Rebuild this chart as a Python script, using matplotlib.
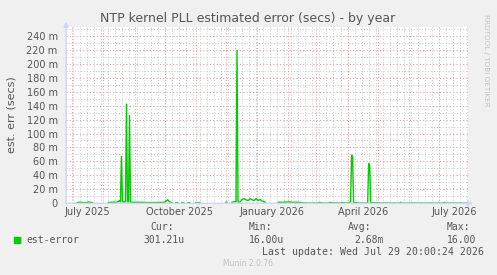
# Munin-style yearly graph for the NTP kernel PLL estimated error

import matplotlib
matplotlib.use("Agg")
import matplotlib.pyplot as plt
import matplotlib.dates as mdates
from matplotlib.patches import Rectangle
import numpy as np
import pandas as pd

nan = float("nan")

# sample dates and estimated error in milliseconds (nan = no data)
sample_dates = [
    "2025-07-06", "2025-07-09", "2025-07-12", "2025-07-15", "2025-07-17", "2025-07-21", "2025-07-28",
    "2025-08-06", "2025-08-10", "2025-08-14", "2025-08-17", "2025-08-18", "2025-08-19", "2025-08-20",
    "2025-08-22", "2025-08-23", "2025-08-24", "2025-08-25", "2025-08-26", "2025-08-27", "2025-08-28",
    "2025-09-05", "2025-09-15", "2025-09-25", "2025-10-01", "2025-10-04", "2025-10-06", "2025-10-08",
    "2025-10-10", "2025-10-12", "2025-10-14", "2025-10-16", "2025-10-18", "2025-10-20", "2025-10-22",
    "2025-10-24", "2025-10-26", "2025-10-29", "2025-11-01", "2025-11-05", "2025-11-10",
    "2025-12-01", "2025-12-02", "2025-12-04", "2025-12-07", "2025-12-10", "2025-12-11", "2025-12-12",
    "2025-12-13", "2025-12-15", "2025-12-17", "2025-12-19", "2025-12-21", "2025-12-23", "2025-12-25",
    "2025-12-27", "2025-12-29", "2025-12-31", "2026-01-02", "2026-01-04", "2026-01-06", "2026-01-08",
    "2026-01-09", "2026-01-15", "2026-01-22", "2026-01-27", "2026-02-01", "2026-02-05", "2026-02-10",
    "2026-02-20", "2026-03-02", "2026-03-04", "2026-03-08", "2026-03-13", "2026-03-14", "2026-03-25",
    "2026-03-26", "2026-04-01", "2026-04-04", "2026-04-05", "2026-04-06", "2026-04-07", "2026-04-15",
    "2026-04-21", "2026-04-22", "2026-04-23", "2026-04-24", "2026-05-10", "2026-05-23", "2026-05-24",
    "2026-05-25", "2026-06-20", "2026-07-05", "2026-07-06", "2026-07-07", "2026-07-20", "2026-07-29",
]
est_err_ms = [
    1.0, 1.5, 1.0, 1.0, 1.8, 1.0, nan,
    1.2, 1.5, 1.5, 3.5, 2.0, 67.0, 2.0,
    2.0, 2.0, 142.0, 2.0, 2.0, 126.0, 1.5,
    1.5, 1.0, 1.2, 1.5, 5.0, 2.0, 1.0,
    nan, 1.0, 1.0, nan, 1.0, 1.0, nan,
    1.0, 1.0, nan, 1.0, 1.0, nan,
    1.5, 1.5, nan, 1.5, 2.5, 2.0, 219.0,
    2.0, 1.5, 5.5, 6.5, 5.0, 4.0, 6.5,
    5.0, 4.0, 6.5, 4.0, 5.5, 3.0, 2.5,
    1.0, nan, 1.5, 1.5, 2.0, 1.5, 1.5,
    0.3, 0.3, 1.2, 0.3, 0.3, 1.2, 0.3,
    1.2, 0.3, 2.0, 69.0, 66.0, 1.0, 0.3,
    0.3, 57.0, 55.0, 1.0, 0.3, 0.3, 1.5,
    0.3, 0.3, 0.3, 1.5, 0.3, 0.3, 0.3,
]

y_ticks_ms = [0, 20, 40, 60, 80, 100, 120, 140, 160, 180, 200, 220, 240]
x_label_dates = ["2025-07-16", "2025-10-16", "2026-01-16", "2026-04-16", "2026-07-16"]
x_labels = ["July 2025", "October 2025", "January 2026", "April 2026", "July 2026"]

legend_name = "est-error"
legend_cur = "301.21u"
legend_min = "16.00u"
legend_avg = "2.68m"
legend_max = "16.00"
last_update = "Last update: Wed Jul 29 20:00:24 2026"

start = pd.Timestamp("2025-06-24 20:00")
end = pd.Timestamp("2026-07-29 20:00")

W, H = 497, 275
fig = plt.figure(figsize=(W / 100, H / 100), dpi=100, facecolor="#f0f0f0")
ax = fig.add_axes([66 / W, 1 - 203.3 / H, 402 / W, 176.3 / H], facecolor="white")

font_col = "#555555"
mgrid = "#e6a0a0"
grid = "#c8c8c8"
axis_col = "#cfd6f8"

x0, x1 = mdates.date2num(start), mdates.date2num(end)
ax.set_xlim(x0, x1)
ax.set_ylim(0, 0.2526)

# vertical grid: weeks (grey) and month starts (red)
d0, d1 = start.to_pydatetime(), end.to_pydatetime()
weeks = mdates.WeekdayLocator(byweekday=mdates.WE).tick_values(d0, d1)
months = mdates.MonthLocator().tick_values(d0, d1)
ax.vlines([w for w in weeks if x0 < w < x1], 0, 1, transform=ax.get_xaxis_transform(),
          colors=grid, linestyles=(0, (1, 2)), linewidth=0.7, zorder=1)
ax.vlines([m for m in months if x0 < m < x1], 0, 1, transform=ax.get_xaxis_transform(),
          colors=mgrid, linestyles=(0, (1, 2)), linewidth=0.7, zorder=1)

# horizontal grid
ax.yaxis.set_major_locator(matplotlib.ticker.FixedLocator([v / 1000 for v in y_ticks_ms]))
ax.yaxis.set_minor_locator(matplotlib.ticker.MultipleLocator(0.01))
ax.grid(axis="y", which="minor", color=grid, linestyle=(0, (1, 2)), linewidth=0.7, zorder=1)
ax.grid(axis="y", which="major", color=mgrid, linestyle=(0, (1, 2)), linewidth=0.8, zorder=1)
ax.set_axisbelow(True)

ax.yaxis.set_major_formatter(matplotlib.ticker.FuncFormatter(
    lambda v, p: "0" if abs(v) < 1e-9 else "%d m" % round(v * 1000)))
ax.set_xticks([mdates.date2num(pd.Timestamp(d)) for d in x_label_dates])
ax.set_xticklabels(x_labels)
ax.tick_params(axis="both", which="both", length=0, labelsize=7, colors=font_col)
ax.tick_params(axis="y", pad=6)
ax.tick_params(axis="x", pad=3)

for s in ax.spines.values():
    s.set_visible(False)

# data line
xs = [mdates.date2num(pd.Timestamp(d)) for d in sample_dates]
ys = np.array(est_err_ms) / 1000.0
ax.plot(xs, ys, color="#00cc00", linewidth=1.0, zorder=3)

# axes with arrows
ax.annotate("", xy=(1.012, 0), xytext=(0, 0), xycoords="axes fraction",
            arrowprops=dict(arrowstyle="-|>", color=axis_col, lw=1, mutation_scale=7,
                            shrinkA=0, shrinkB=0), annotation_clip=False, zorder=4)
ax.annotate("", xy=(0, 1.03), xytext=(0, 0), xycoords="axes fraction",
            arrowprops=dict(arrowstyle="-|>", color=axis_col, lw=1, mutation_scale=7,
                            shrinkA=0, shrinkB=0), annotation_clip=False, zorder=4)

def fx(px):
    return px / W

def fy(py):
    return 1 - py / H

fig.text(fx(248), fy(18.5), "NTP kernel PLL estimated error (secs) - by year",
         ha="center", va="center", fontsize=9, color=font_col)
fig.text(fx(12), fy(115), "est. err (secs)", rotation=90, ha="center", va="center",
         fontsize=8, color=font_col)
fig.text(fx(486), fy(14), "RRDTOOL / TOBI OETIKER", rotation=270, ha="center", va="top",
         fontsize=5.2, color="#c4c4c4")

mono = "DejaVu Sans Mono"
fig.add_artist(Rectangle((fx(14), fy(243)), 6 / W, 6 / H, transform=fig.transFigure,
                         color="#00cc00"))
fig.text(fx(26), fy(240), legend_name, ha="left", va="center", fontsize=7, family=mono, color=font_col)
for px, head in [(150, "Cur:"), (249, "Min:"), (348, "Avg:"), (447, "Max:")]:
    fig.text(fx(px), fy(227.5), head, ha="left", va="center", fontsize=7, family=mono, color=font_col)
for px, val in [(143.5, legend_cur), (249, legend_min), (354, legend_avg), (447, legend_max)]:
    fig.text(fx(px), fy(240), val, ha="left", va="center", fontsize=7, family=mono, color=font_col)
fig.text(fx(261.5), fy(252), last_update, ha="left", va="center", fontsize=7.1, family=mono, color=font_col)
fig.text(fx(248), fy(264), "Munin 2.0.76", ha="center", va="center", fontsize=5.5, color="#c0c0c0")

fig.savefig("out.png", dpi=100, facecolor=fig.get_facecolor())
